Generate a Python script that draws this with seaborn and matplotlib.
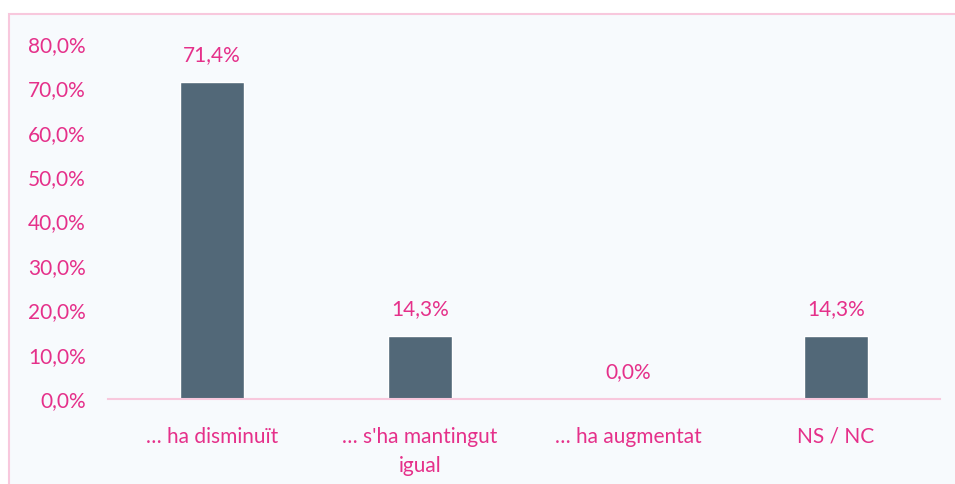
import pandas as pd
import seaborn as sns
import matplotlib.pyplot as plt
from matplotlib.patches import Rectangle

# data
categories = ["… ha disminuït", "… s'ha mantingut\nigual", "… ha augmentat", "NS / NC"]
values = [71.4, 14.3, 0.0, 14.3]
y_ticks = [0, 10, 20, 30, 40, 50, 60, 70, 80]

pink = "#E5308A"
bar_color = "#526878"
line_pink = "#F8C8DD"

df = pd.DataFrame({"cat": categories, "val": values})

sns.set_style("white")
plt.rcParams["font.family"] = ["Lato", "DejaVu Sans"]

fig = plt.figure(figsize=(9.55, 4.84), dpi=100)
fig.patch.set_facecolor("white")

# chart background with pink frame
fig.patches.append(Rectangle((9 / 955, -0.05), 1.0, 1 - 14 / 484 + 0.05,
                             transform=fig.transFigure, facecolor="#F7FAFD",
                             edgecolor=line_pink, linewidth=1.5, zorder=-10))

ax = fig.add_axes([108 / 955, 1 - 399 / 484, (940 - 108) / 955, (399 - 44) / 484])
ax.set_facecolor("none")

sns.barplot(data=df, x="cat", y="val", color=bar_color, width=0.31,
            saturation=1, ax=ax)

ax.set_ylim(0, 80)
ax.set_yticks(y_ticks)
ax.set_yticklabels([f"{t:.1f}%".replace(".", ",") for t in y_ticks])
ax.set_xlabel("")
ax.set_ylabel("")

ax.tick_params(axis="both", length=0, colors=pink, labelsize=15)
ax.tick_params(axis="y", pad=16)
ax.tick_params(axis="x", pad=20)
for lbl in ax.get_xticklabels():
    lbl.set_linespacing(1.55)

for s in ["top", "right", "left"]:
    ax.spines[s].set_visible(False)
ax.spines["bottom"].set_color(line_pink)
ax.spines["bottom"].set_linewidth(1.5)

for i, v in enumerate(values):
    ax.annotate(f"{v:.1f}%".replace(".", ","), (i, v), xytext=(0, 12),
                textcoords="offset points", ha="center", va="bottom",
                color=pink, fontsize=15)

fig.savefig("out.png", dpi=100)
